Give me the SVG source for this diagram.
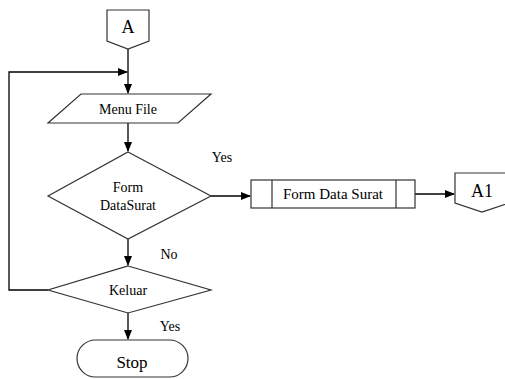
<svg xmlns="http://www.w3.org/2000/svg" width="505" height="379" viewBox="0 0 505 379">
<defs>
<marker id="arr" markerWidth="10" markerHeight="8" refX="9" refY="4" orient="auto" markerUnits="userSpaceOnUse">
<path d="M0,0 L10,4 L0,8 Z" fill="#000"/>
</marker>
<style>
.s{fill:#fff;stroke:#333;stroke-width:1.2}
.l{fill:none;stroke:#000;stroke-width:1.3}
text{font-family:"Liberation Serif","Times New Roman",serif;fill:#000;text-anchor:middle}
.t{font-size:14px}
.big{font-size:18px}
</style>
</defs>
<rect width="505" height="379" fill="#fff"/>
<g id="connectors">
<path class="l" d="M128,49 V93" marker-end="url(#arr)"/>
<path class="l" d="M48,290 H9 V72 H127" marker-end="url(#arr)"/>
<path class="l" d="M128,123 V151" marker-end="url(#arr)"/>
<path class="l" d="M211,196 H250" marker-end="url(#arr)"/>
<path class="l" d="M415,194 H454" marker-end="url(#arr)"/>
<path class="l" d="M128,239 V265" marker-end="url(#arr)"/>
<path class="l" d="M128,312 V339" marker-end="url(#arr)"/>
</g>
<g id="A">
<path class="s" d="M107,10 H149 V41 L128,49 L107,41 Z"/>
<text class="big" x="128" y="33">A</text>
</g>
<g id="menu">
<path class="s" d="M81,94 H211 L178,123 H48 Z"/>
<text class="t" x="128" y="114">Menu File</text>
</g>
<g id="d1">
<path class="s" d="M128,152 L211,196 L128,239 L48,196 Z"/>
<text class="t" x="128" y="192">Form</text>
<text class="t" x="128" y="210">DataSurat</text>
</g>
<text class="t" x="222" y="162">Yes</text>
<g id="proc">
<rect class="s" x="251" y="180" width="164" height="28"/>
<path class="l" d="M272,180 V208 M396,180 V208" style="stroke:#333;stroke-width:1.2"/>
<text x="333" y="199" style="font-size:15px">Form Data Surat</text>
</g>
<g id="A1">
<path class="s" d="M455,173 H509 V203 L482,212 L455,203 Z"/>
<text class="big" x="482" y="197">A1</text>
</g>
<text class="t" x="169" y="259">No</text>
<g id="keluar">
<path class="s" d="M128,266 L211,290 L128,313 L48,290 Z"/>
<text class="t" x="128" y="295">Keluar</text>
</g>
<text class="t" x="170" y="331">Yes</text>
<g id="stop">
<rect class="s" x="77" y="340" width="111" height="37" rx="18.5"/>
<text x="132" y="368" style="font-size:17px">Stop</text>
</g>
</svg>
